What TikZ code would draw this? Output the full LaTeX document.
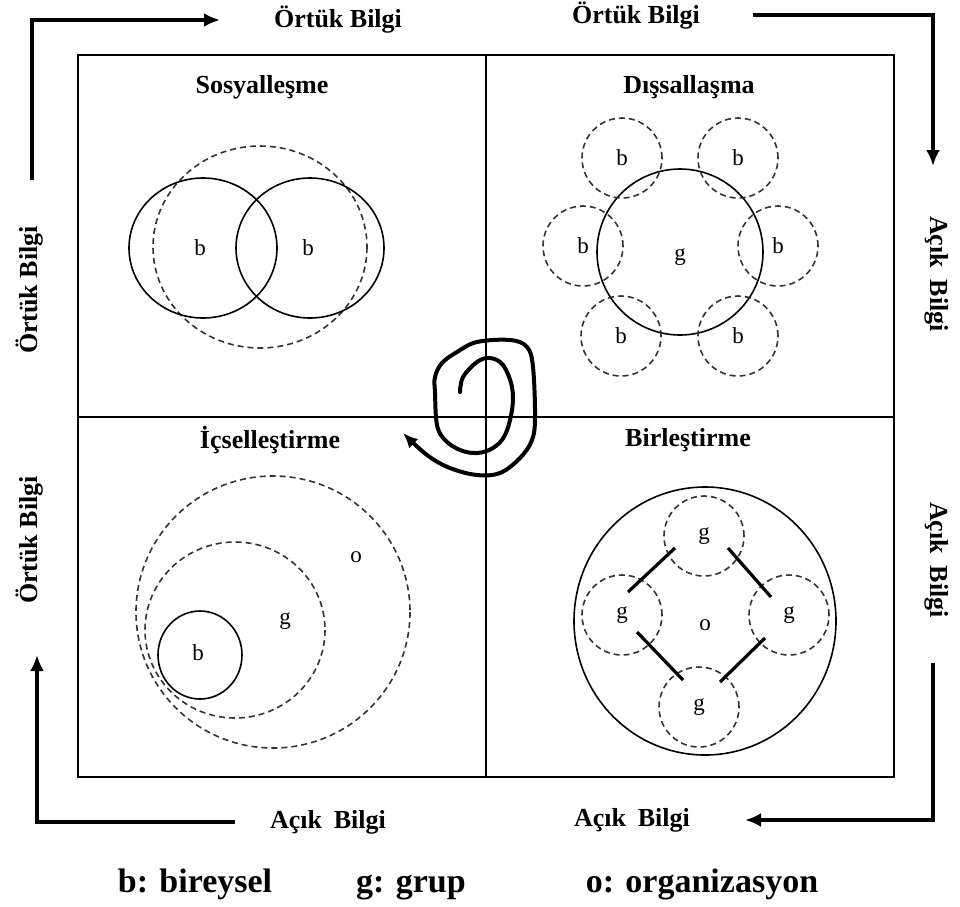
\documentclass[tikz,border=0pt]{standalone}
\usepackage{fontspec}
\setmainfont{Liberation Serif}
\usetikzlibrary{arrows.meta}
\begin{document}
\begin{tikzpicture}[x=1pt,y=-1pt,
  title/.style={font=\fontsize{26}{30}\selectfont\bfseries, inner sep=0pt},
  letter/.style={font=\fontsize{23}{26}\selectfont, inner sep=0pt},
  legend/.style={font=\fontsize{34}{38}\selectfont\bfseries, inner sep=0pt, anchor=base},
  solidring/.style={draw, line width=1.6pt},
  dashring/.style={draw=black!80, line width=1.6pt, dash pattern=on 6pt off 4pt},
  bubble/.style={circle, dashring, minimum size=80pt, inner sep=0pt,
                 font=\fontsize{23}{26}\selectfont},
  flow/.style={line width=3.4pt, -{Latex[length=16pt,width=14pt]}},
  link/.style={line width=3.2pt},
]
\useasboundingbox (0,0) rectangle (960,906);

% frame and quadrants
\draw[line width=1.4pt] (78,55) rectangle (894,777);
\draw[line width=1.4pt] (486,55) -- (486,777);
\draw[line width=1.4pt] (78,417) -- (894,417);

% titles
\node[title] (t1) at (262,87) {Sosyalleşme};
\node[title] (t2) at (689,87) {Dışsallaşma};
\node[title] (t3) at (270,440) {İçselleştirme};
\node[title] (t4) at (688,440) {Birleştirme};

% Sosyallesme: two individuals inside a shared space
\draw[dashring] (260,247) ellipse [x radius=107, y radius=101];
\draw[solidring] (203,248) ellipse [x radius=74, y radius=70];
\draw[solidring] (310,248) ellipse [x radius=74, y radius=70];
\node[letter] (s1) at (200,248) {b};
\node[letter] (s2) at (308,248) {b};

% Dissallasma: individuals around a group
\draw[solidring] (680,252) circle [radius=83];
\node[letter] (dg) at (680,257) {g};
\node[bubble] (d1) at (622,158) {b};
\node[bubble] (d2) at (738,158) {b};
\node[bubble] (d3) at (583,246) {b};
\node[bubble] (d4) at (778,246) {b};
\node[bubble] (d5) at (621,336) {b};
\node[bubble] (d6) at (738,336) {b};

% Icsellestirme: nested individual, group, organization
\draw[dashring] (273,612) ellipse [x radius=137, y radius=136];
\draw[dashring] (235,630) ellipse [x radius=90, y radius=88];
\draw[solidring] (200,655) ellipse [x radius=42, y radius=44];
\node[letter] (io) at (356,557) {o};
\node[letter] (ig) at (285,621) {g};
\node[letter] (ib) at (198,653) {b};

% Birlestirme: groups linked inside the organization
\draw[solidring] (705,621) ellipse [x radius=131, y radius=134];
\node[letter] (bo) at (705,625) {o};
\node[bubble] (g1) at (704,536) {g};
\node[bubble] (g2) at (622,615) {g};
\node[bubble] (g3) at (789,615) {g};
\node[bubble] (g4) at (699,707) {g};
\coordinate (l1a) at (628,592); \coordinate (l1b) at (675,548);
\coordinate (l2a) at (728,548); \coordinate (l2b) at (771,597);
\coordinate (l3a) at (637,632); \coordinate (l3b) at (683,680);
\coordinate (l4a) at (720,682); \coordinate (l4b) at (765,638);
\draw[link] (l1a) -- (l1b);
\draw[link] (l2a) -- (l2b);
\draw[link] (l3a) -- (l3b);
\draw[link] (l4a) -- (l4b);

% knowledge spiral
\draw[line width=4pt, line cap=round, -{Latex[length=15pt,width=13pt]}]
  plot[smooth, tension=0.6] coordinates {
  (460,392) (463,377) (477,362) (490,358) (503,365) (512,387) (512,410)
  (505,435) (493,448) (477,453) (460,450) (445,440) (437,425) (435,393)
  (435,377) (442,363) (457,352) (477,342) (510,340) (527,347) (533,367)
  (535,417) (532,440) (520,458) (500,473) (477,475) (450,468) (427,455)
  (403,433)};

% knowledge labels round the frame
\node[title] (top1) at (338,20) {Örtük Bilgi};
\node[title] (top2) at (636,16) {Örtük Bilgi};
\node[title, rotate=90] (lft1) at (30,290) {Örtük Bilgi};
\node[title, rotate=90] (lft2) at (30,540) {Örtük Bilgi};
\node[title, rotate=-90] (rgt1) at (937,274) {Açık\hspace{0.45em}Bilgi};
\node[title, rotate=-90] (rgt2) at (937,560) {Açık\hspace{0.45em}Bilgi};
\node[title] (bot1) at (328,822) {Açık\hspace{0.45em}Bilgi};
\node[title] (bot2) at (632,820) {Açık\hspace{0.45em}Bilgi};

% cycle arrows
\coordinate (a1s) at (32,180); \coordinate (a1c) at (32,20); \coordinate (a1e) at (220,20);
\coordinate (a2s) at (753,15); \coordinate (a2c) at (933,15); \coordinate (a2e) at (933,166);
\coordinate (a3s) at (933,663); \coordinate (a3c) at (933,820); \coordinate (a3e) at (745,820);
\coordinate (a4s) at (235,822); \coordinate (a4c) at (37,822); \coordinate (a4e) at (37,655);
\draw[flow] (a1s) -- (a1c) -- (a1e);
\draw[flow] (a2s) -- (a2c) -- (a2e);
\draw[flow] (a3s) -- (a3c) -- (a3e);
\draw[flow] (a4s) -- (a4c) -- (a4e);

% legend
\node[legend] (k1) at (195,892) {b: bireysel};
\node[legend] (k2) at (411,892) {g: grup};
\node[legend] (k3) at (702,892) {o: organizasyon};
\end{tikzpicture}
\end{document}
